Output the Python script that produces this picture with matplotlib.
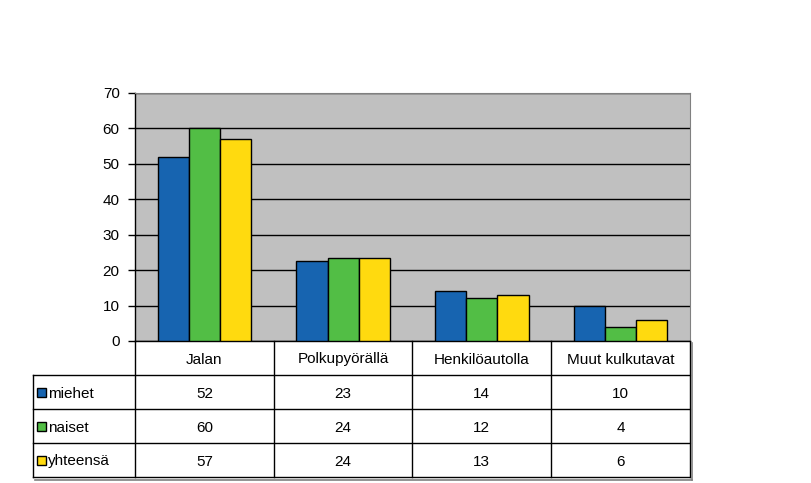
import numpy as np
import matplotlib.pyplot as plt
from matplotlib.patches import Rectangle

plt.rcParams['font.family'] = ['Liberation Sans', 'DejaVu Sans']

# data
categories = ['Jalan', 'Polkupyörällä', 'Henkilöautolla', 'Muut kulkutavat']
series = ['miehet', 'naiset', 'yhteensä']
miehet = [52, 22.5, 14, 10]
naiset = [60, 23.5, 12, 4]
yhteensa = [57, 23.5, 13, 6]
table_miehet = ['52', '23', '14', '10']
table_naiset = ['60', '24', '12', '4']
table_yhteensa = ['57', '24', '13', '6']

values = [miehet, naiset, yhteensa]
table_rows = [table_miehet, table_naiset, table_yhteensa]
colors = ['#1764B0', '#52BE45', '#FFDA0F']
fs = 11

fig = plt.figure(figsize=(8.12, 4.83), dpi=100)
W, H = 812, 483
ax = fig.add_axes([135 / W, (H - 341) / H, 555 / W, 248 / H])
ax.set_facecolor('#C0C0C0')

x = np.arange(len(categories))
bw = 0.225
for i, (vals, c) in enumerate(zip(values, colors)):
    ax.bar(x + (i - 1) * bw, vals, bw, color=c, edgecolor='black', linewidth=1, zorder=3)

ax.set_xlim(-0.5, len(categories) - 0.5)
ax.set_ylim(0, 70)
ax.set_yticks(range(0, 71, 10))
ax.yaxis.grid(True, color='black', linewidth=1, zorder=1)
ax.set_axisbelow(True)
ax.tick_params(axis='y', direction='out', length=5, width=1, labelsize=fs, pad=6)
ax.set_xticks([])
for s in ['top', 'right']:
    ax.spines[s].set_color('#808080')
for s in ['left', 'bottom']:
    ax.spines[s].set_color('black')
    ax.spines[s].set_linewidth(1)

# data table below the axes
tr = ax.get_xaxis_transform()
px = 555 / len(categories)
row_h = 34 / 248
left = (33 - 135) / px - 0.5
right = len(categories) - 0.5
kw = dict(transform=tr, clip_on=False, color='black', linewidth=1)
for b in np.arange(-0.5, len(categories), 1.0):
    ax.plot([b, b], [0, -4 * row_h], **kw)
ax.plot([left, left], [-row_h, -4 * row_h], **kw)
for r in range(1, 5):
    ax.plot([left, right], [-r * row_h, -r * row_h], **kw)
# shadow
sh = dict(transform=tr, clip_on=False, color='#808080', linewidth=1.2)
ax.plot([right + 2.5 / px, right + 2.5 / px], [-2 / 248, -4 * row_h - 2.5 / 248], **sh)
ax.plot([left + 2.5 / px, right + 2.5 / px], [-4 * row_h - 2.5 / 248, -4 * row_h - 2.5 / 248], **sh)

for j, cat in enumerate(categories):
    ax.text(j, -0.5 * row_h, cat, transform=tr, ha='center', va='center_baseline', fontsize=fs)
for i, (name, row, c) in enumerate(zip(series, table_rows, colors)):
    yc = -(i + 1.5) * row_h
    ax.add_patch(Rectangle(((37 - 135) / px - 0.5, yc - 4.5 / 248), 9 / px, 9 / 248,
                           transform=tr, clip_on=False, facecolor=c, edgecolor='black', linewidth=1))
    ax.text((48 - 135) / px - 0.5, yc, name, transform=tr, ha='left', va='center_baseline', fontsize=fs)
    for j, v in enumerate(row):
        ax.text(j, yc, v, transform=tr, ha='center', va='center_baseline', fontsize=fs)

fig.savefig('out.png', dpi=100)
